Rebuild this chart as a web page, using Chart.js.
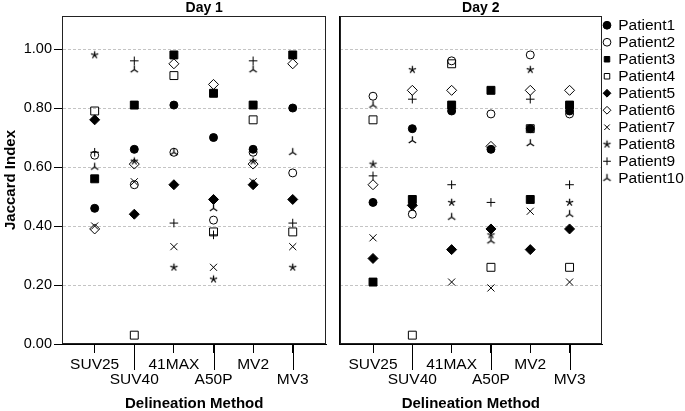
<!DOCTYPE html>
<html><head><meta charset="utf-8">
<script src="https://cdn.jsdelivr.net/npm/chart.js@4"></script>
<style>
html,body{margin:0;padding:0;background:#fff;}
#wrap{position:relative;width:685px;height:411px;overflow:hidden;}
#c1{position:absolute;left:0;top:0;}
#c2{position:absolute;left:333px;top:0;}
</style></head><body>
<div id="wrap"><canvas id="c1" width="333" height="411"></canvas><canvas id="c2" width="352" height="411"></canvas></div>
<script>
const methods = ['SUV25', 'SUV40', '41MAX', 'A50P', 'MV2', 'MV3'];
const panelTitles = ['Day 1', 'Day 2'];
const patientNames = ['Patient1','Patient2','Patient3','Patient4','Patient5','Patient6','Patient7','Patient8','Patient9','Patient10'];
const yTickValues = [0, 0.2, 0.4, 0.6, 0.8, 1.0];
const xAxisTitle = 'Delineation Method';
const yAxisTitle = 'Jaccard Index';

// Day 1 (SUV25, SUV40, 41MAX, A50P, MV2, MV3)
const day1Patient1  = [0.46, 0.66, 0.81, 0.70, 0.66, 0.80];
const day1Patient2  = [0.64, 0.54, 0.65, 0.42, 0.65, 0.58];
const day1Patient3  = [0.56, 0.81, 0.98, 0.85, 0.81, 0.98];
const day1Patient4  = [0.79, 0.03, 0.91, 0.38, 0.76, 0.38];
const day1Patient5  = [0.76, 0.44, 0.54, 0.49, 0.54, 0.49];
const day1Patient6  = [0.39, 0.61, 0.95, 0.88, 0.61, 0.95];
const day1Patient7  = [0.40, 0.55, 0.33, 0.26, 0.55, 0.33];
const day1Patient8  = [0.98, 0.62, 0.26, 0.22, 0.62, 0.26];
const day1Patient9  = [0.65, 0.96, 0.41, 0.37, 0.96, 0.41];
const day1Patient10 = [0.60, 0.93, 0.65, 0.46, 0.93, 0.65];

// Day 2
const day2Patient1  = [0.48, 0.73, 0.79, 0.66, 0.73, 0.79];
const day2Patient2  = [0.84, 0.44, 0.96, 0.78, 0.98, 0.78];
const day2Patient3  = [0.21, 0.49, 0.81, 0.86, 0.49, 0.81];
const day2Patient4  = [0.76, 0.03, 0.95, 0.26, 0.73, 0.26];
const day2Patient5  = [0.29, 0.47, 0.32, 0.39, 0.32, 0.39];
const day2Patient6  = [0.54, 0.86, 0.86, 0.67, 0.86, 0.86];
const day2Patient7  = [0.36, 0.46, 0.21, 0.19, 0.45, 0.21];
const day2Patient8  = [0.61, 0.93, 0.48, 0.37, 0.93, 0.48];
const day2Patient9  = [0.57, 0.83, 0.54, 0.48, 0.83, 0.54];
const day2Patient10 = [0.81, 0.69, 0.43, 0.35, 0.68, 0.44];

const day1Series = [day1Patient1, day1Patient2, day1Patient3, day1Patient4, day1Patient5,
                    day1Patient6, day1Patient7, day1Patient8, day1Patient9, day1Patient10];
const day2Series = [day2Patient1, day2Patient2, day2Patient3, day2Patient4, day2Patient5,
                    day2Patient6, day2Patient7, day2Patient8, day2Patient9, day2Patient10];

const FONT = '"Liberation Sans", Arial, Helvetica, sans-serif';

function makeTriMarker() {
  const c = document.createElement('canvas');
  c.width = 11; c.height = 11;
  const g = c.getContext('2d');
  g.strokeStyle = '#000'; g.lineWidth = 1.25;
  g.beginPath();
  g.moveTo(5.5, 5.5); g.lineTo(5.5, 1.2);
  g.moveTo(5.5, 5.5); g.lineTo(1.8, 8.0);
  g.moveTo(5.5, 5.5); g.lineTo(9.2, 8.0);
  g.stroke();
  return c;
}
function makeStarMarker() {
  const c = document.createElement('canvas');
  c.width = 11; c.height = 11;
  const g = c.getContext('2d');
  g.strokeStyle = '#000'; g.lineWidth = 1.25;
  g.beginPath();
  for (let k = 0; k < 5; k++) {
    const ang = -Math.PI / 2 + k * 2 * Math.PI / 5;
    g.moveTo(5.5, 5.5);
    g.lineTo(5.5 + 3.8 * Math.cos(ang), 5.5 + 3.8 * Math.sin(ang));
  }
  g.stroke();
  return c;
}
const triMarker = makeTriMarker();
const starMarker = makeStarMarker();

const markerStyles = [
  {style: 'circle',   r: 4,   filled: true},
  {style: 'circle',   r: 4,   filled: false},
  {style: 'rect',     r: 5.6, filled: true},
  {style: 'rect',     r: 5.6, filled: false},
  {style: 'rectRot',  r: 5,   filled: true},
  {style: 'rectRot',  r: 5,   filled: false},
  {style: 'crossRot', r: 5,   filled: false},
  {style: starMarker, r: 4,   filled: false},
  {style: 'cross',    r: 4.3, filled: false},
  {style: triMarker,  r: 5,   filled: false}
];

function buildDatasets(series) {
  return series.map((vals, i) => ({
    label: patientNames[i],
    data: vals.map((v, j) => ({x: j, y: v})),
    pointStyle: markerStyles[i].style,
    pointRadius: markerStyles[i].r,
    pointHoverRadius: markerStyles[i].r,
    borderColor: '#000',
    backgroundColor: markerStyles[i].filled ? '#000' : 'rgba(0,0,0,0)',
    borderWidth: 1,
    showLine: false
  }));
}

const panelPlugin = {
  id: 'panelDeco',
  afterDraw(chart, args, opts) {
    const {ctx, chartArea: a} = chart;
    ctx.save();
    ctx.strokeStyle = '#222';
    ctx.lineWidth = 1;
    const l = Math.round(a.left) + 0.5, t = Math.round(a.top) + 0.5;
    const r = Math.round(a.right) - 0.5, b = Math.round(a.bottom) - 0.5;
    ctx.strokeRect(l, t, r - l, b - t);
    const xs = chart.scales.x;
    ctx.strokeStyle = '#000';
    methods.forEach((m, i) => {
      if (i % 2 === 1) {
        const px = Math.round(xs.getPixelForValue(i)) + 0.5;
        ctx.beginPath();
        ctx.moveTo(px, a.bottom);
        ctx.lineTo(px, a.bottom + 26);
        ctx.stroke();
      }
    });
    ctx.font = 'bold 14px ' + FONT;
    ctx.fillStyle = '#000';
    ctx.textAlign = 'center';
    ctx.textBaseline = 'middle';
    ctx.fillText(opts.text, (a.left + a.right) / 2 + 10, 8);
    ctx.restore();
  }
};

function xScale(xMin, xMax) {
  return {
    type: 'linear', min: xMin, max: xMax,
    afterBuildTicks: s => { s.ticks = methods.map((m, i) => ({value: i})); },
    afterFit: s => { s.height = 67; },
    ticks: {
      autoSkip: false, maxRotation: 0, minRotation: 0, padding: 3.5, color: '#000',
      font: {family: FONT, size: 15.5, lineHeight: 1},
      callback: (v) => { const i = Math.round(v); return i % 2 ? ['', methods[i]] : methods[i]; }
    },
    grid: {drawOnChartArea: false, drawTicks: true, tickLength: 9, tickColor: '#000', color: '#000'},
    border: {display: true, color: '#000', width: 1},
    title: {display: true, text: xAxisTitle, color: '#000',
      font: {family: FONT, size: 15, weight: 'bold', lineHeight: 1}, padding: {top: 0, bottom: 0}}
  };
}

const gridColor = c => (c.tick && c.tick.value === 0) ? 'rgba(0,0,0,0)' : '#c4c4c4';

new Chart(document.getElementById('c1'), {
  type: 'scatter',
  data: {datasets: buildDatasets(day1Series)},
  plugins: [panelPlugin],
  options: {
    responsive: false, animation: false,
    layout: {padding: {left: 0, right: 4, top: 16, bottom: 0}},
    plugins: {legend: {display: false}, tooltip: {enabled: false}, panelDeco: {text: panelTitles[0]}},
    scales: {
      x: xScale(-0.825, 5.85),
      y: {
        min: 0, max: 1.112,
        afterBuildTicks: s => { s.ticks = yTickValues.map(v => ({value: v})); },
        afterFit: s => { s.width = 62; },
        ticks: {padding: 2, color: '#000', font: {family: FONT, size: 14.5}, callback: v => v.toFixed(2)},
        grid: {color: gridColor, lineWidth: 1, drawTicks: true, tickLength: 8, tickColor: '#000', tickBorderDash: []},
        border: {display: true, color: '#000', dash: [3, 2]},
        title: {display: true, text: yAxisTitle, color: '#000',
          font: {family: FONT, size: 15, weight: 'bold', lineHeight: 1}, padding: {top: 3, bottom: 0}}
      }
    }
  }
});

new Chart(document.getElementById('c2'), {
  type: 'scatter',
  data: {datasets: buildDatasets(day2Series)},
  plugins: [panelPlugin],
  options: {
    responsive: false, animation: false,
    layout: {padding: {left: 2, right: 0, top: 16, bottom: 0}},
    plugins: {
      tooltip: {enabled: false},
      panelDeco: {text: panelTitles[1]},
      legend: {
        display: true, position: 'right', align: 'start', maxWidth: 83,
        labels: {usePointStyle: true, boxWidth: 7, boxHeight: 5.5, padding: 1.5, color: '#000',
          font: {family: FONT, size: 15.5}}
      }
    },
    scales: {
      x: xScale(-0.85, 5.825),
      y: {
        min: 0, max: 1.112,
        afterBuildTicks: s => { s.ticks = yTickValues.map(v => ({value: v})); },
        afterFit: s => { s.width = 0; },
        ticks: {display: false},
        grid: {color: gridColor, lineWidth: 1, drawTicks: false},
        border: {display: true, color: '#000', dash: [3, 2]}
      }
    }
  }
});
</script>
</body></html>
